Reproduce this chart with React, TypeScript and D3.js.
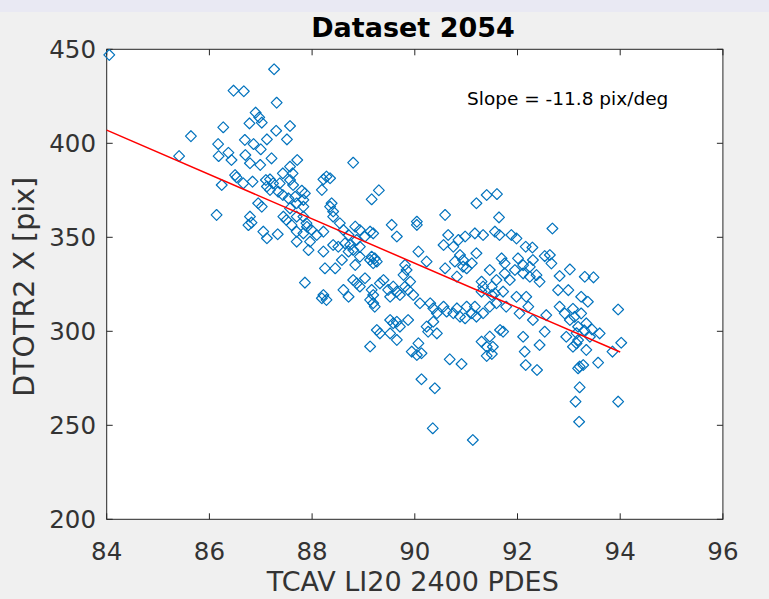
import React from 'react';
import * as d3 from 'd3';

const titleText = 'Dataset 2054';
const xLabelText = 'TCAV LI20 2400 PDES';
const yLabelText = 'DTOTR2 X [pix]';
const slopeText = 'Slope = -11.8 pix/deg';

const xTicks = [84, 86, 88, 90, 92, 94, 96];
const yTicks = [200, 250, 300, 350, 400, 450];

const fitX = [84, 94];
const fitY = [407, 289];

const tcav = [
  84.05, 85.41, 85.64, 86.27, 86.47, 86.67, 87.26, 87.31, 86.90, 86.97,
  87.02, 86.78, 87.57, 87.30, 87.51, 87.12, 86.69, 86.86, 86.17, 87.0,
  86.18, 86.37, 86.43, 86.70, 87.21, 86.79, 86.99, 87.71, 87.57, 87.43,
  87.62, 86.5, 86.53, 86.66, 86.24, 86.84, 87.1, 87.18, 87.24, 87.37,
  87.57, 87.80, 87.18, 87.34, 87.43, 86.95, 87.02, 87.54, 87.70, 87.57,
  87.83, 86.14, 86.79, 86.82, 86.76, 87.05, 87.12, 87.33, 87.44, 87.60,
  87.70, 87.83, 87.9, 87.70, 87.93, 87.86, 87.12, 87.50, 87.83, 88.80,
  88.22, 88.28, 88.35, 89.30,
  87.63, 87.67, 87.86, 87.83, 88.19, 88.35, 88.41, 88.38, 89.16, 87.70,
  87.89, 87.99, 87.96, 88.09, 88.22, 88.22, 88.25, 88.45, 88.41, 88.54,
  88.61, 88.71, 88.84, 88.93, 89.13, 89.03, 89.19, 88.41, 88.51, 88.64,
  88.74, 88.87, 88.71, 88.80, 88.93, 89.16, 89.13, 89.22, 89.26, 89.19,
  88.58, 88.84, 88.93, 89.55, 89.65, 90.04, 90.04, 90.07, 90.23, 89.81,
  89.84, 89.78, 90.59, 90.65, 90.56, 90.75, 90.85, 90.98, 91.17, 91.33,
  91.20, 91.40, 90.88, 90.94, 90.94, 91.01, 90.78, 90.59, 90.82, 91.11,
  91.20, 91.46, 91.30, 91.33, 91.50, 91.59, 91.50, 91.30, 88.22, 88.19,
  88.28, 88.61, 88.71, 88.80, 88.87, 88.93, 89.03, 89.16, 89.19, 89.13,
  89.19, 89.22, 89.32, 89.39, 89.48, 89.58, 89.52, 89.65, 89.71, 89.81,
  89.91, 89.87, 89.97, 90.10, 90.30, 90.36, 90.43, 90.36, 90.56, 90.62,
  90.75, 90.82, 90.88, 91.01, 91.11, 91.17, 91.20, 90.98, 91.33, 91.46,
  91.59, 89.52, 89.58, 89.65, 89.71, 89.87, 90.23, 90.43, 89.26, 89.32,
  89.13, 89.52, 89.65, 91.66,
  90.07, 89.94, 90.04, 90.13, 90.68, 90.91, 90.13, 90.39, 90.35, 91.13,
  90.26, 91.30, 91.46, 91.40, 91.40, 91.50, 91.72,
  91.60, 91.64, 92.68, 91.56, 91.65, 91.88, 91.98, 92.16, 92.29, 92.53,
  92.63, 92.66, 91.69, 91.75, 92.01, 92.11, 92.24, 92.30, 91.95, 92.11,
  92.24, 92.37, 92.43, 91.75, 91.85, 93.02, 92.82, 93.31, 93.48, 92.79,
  92.99, 93.24, 93.37, 91.56, 91.72, 91.98, 92.17, 92.21, 91.78, 92.04,
  92.30, 92.56, 92.82, 92.92, 93.02, 93.11, 93.18, 93.34, 93.60, 93.96,
  94.02, 92.53, 92.11, 92.43, 92.95, 93.18, 93.41,
  91.52, 92.14, 92.16, 92.38, 93.15, 93.08, 93.34, 93.21, 93.28, 93.18,
  93.57, 93.85, 93.21, 93.13, 93.96, 93.20,
  93.08, 93.24, 93.30, 93.45, 93.15
];

const dtotr2 = [
  447, 393.2, 403.8, 408.5, 428, 427.7, 439.4, 421.6, 416.3, 413.8,
  411, 410.6, 409.2, 406.7, 402.1, 402.1, 401.8, 399.6, 399.6, 396.8,
  393.2, 395, 391.1, 393.8, 392, 389.4, 388.5, 391.1, 387.6, 384,
  384, 383.1, 381.9, 378.7, 377.8, 379.6, 380.5, 380.8, 378.7, 378.7,
  380.5, 374.8, 375.2, 374.3, 372.5, 368.1, 366.3, 370.7, 368.1, 365.4,
  366.3, 361.9, 361, 357.8, 356.5, 353, 349.5, 351.6, 361, 356.5,
  353, 352.1, 355.6, 347.7, 343.2, 325.9, 377, 359.2, 361, 389.7,
  380.8, 382.3, 381.4, 375.0,
  377.8, 371.6, 373.4, 369.9, 375.2, 366.3, 363.7, 368.1, 370.2, 361,
  357.5, 353.9, 347.7, 351.2, 353, 342.4, 333.5, 333.5, 361, 357.5,
  353.9, 351.2, 355.7, 353.9, 353, 350.4, 352.1, 345.9, 345, 346.8,
  345.9, 348.6, 342.4, 343.3, 345, 339.7, 337.9, 338.8, 337.1, 336.2,
  337.9, 335.3, 339.7, 356.6, 350.4, 358.3, 356.6, 342.4, 337.1, 335.3,
  332.6, 330, 361.9, 351.2, 345.9, 345, 348.6, 350.4, 352.1, 351.2,
  368.1, 372.5, 340.6, 337.9, 334.4, 333.5, 337.1, 333.5, 329.1, 336.2,
  341.5, 332.6, 326.4, 323.8, 323.8, 327.3, 319.3, 321.1, 319.3, 317.6,
  316.7, 322, 318.4, 327.3, 325.5, 323.8, 328.2, 322, 319.3, 316.7,
  314.9, 313.1, 325.5, 327.3, 322, 323.8, 318.4, 321.1, 319.3, 323.8,
  326.4, 322, 319.3, 314.9, 314.9, 312.2, 309.6, 305.1, 313.1, 310.5,
  309.6, 312.2, 307.8, 313.1, 309.6, 313.1, 307.8, 306.9, 309.6, 313.1,
  314.9, 306, 304.3, 305.1, 302.5, 306, 302.5, 298.9, 300.7, 298.9,
  291.9, 298.9, 295.4, 300.7,
  293.6, 289.2, 287.4, 288.3, 285.1, 282.6, 274.5, 269.7, 248.4, 242.2,
  299.8, 294.5, 297.2, 291.8, 286.9, 287.9, 299.8,
  373.0, 360.6, 354.7, 353.0, 351.2, 351.2, 349.4, 345.0, 344.6, 340.0,
  340.6, 336.1, 338.8, 336.1, 338.8, 335.2, 334.3, 337.9, 332.6, 330.8,
  329.0, 329.9, 326.4, 330.8, 327.3, 332.9, 329.4, 329.0, 328.7, 321.9,
  321.9, 318.4, 315.7, 320.2, 321.1, 318.4, 318.4, 313.1, 313.1, 309.5,
  306.0, 308.6, 313.1, 309.5, 306.0, 307.7, 302.4, 304.2, 298.9, 311.6,
  293.9, 299.8, 297.1, 292.7, 297.1, 295.3, 297.1,
  291.8, 289.2, 282.1, 279.4, 293.6, 291.8, 290.1, 281.2, 282.1, 280.3,
  283.3, 289.2, 270.2, 262.6, 262.6, 251.9,
  312.0, 309.5, 300.5, 301.0, 299.0
];

const W = 769;
const H = 599;
const FONT = '"DejaVu Sans", "Lucida Grande", sans-serif';
const AXIS = '#262626';
const LABEL = '#333333';
const MARKER = '#0072BD';

export default function App() {
  const left = 106.7, right = 722.9, top = 49.3, bottom = 519.3;
  const x = d3.scaleLinear().domain([84, 96]).range([left, right]);
  const y = d3.scaleLinear().domain([200, 450]).range([bottom, top]);
  const pts: [number, number][] = tcav.map((v, i) => [v, dtotr2[i]]);
  const fit: [number, number][] = fitX.map((v, i) => [v, fitY[i]]);
  const line = d3.line<[number, number]>().x(d => x(d[0])).y(d => y(d[1]));
  const r = 5.4;
  const diamond = `M0,${-r}L${r},0L0,${r}L${-r},0Z`;
  const tickLen = 6;
  const cx = (left + right) / 2;
  const cy = (top + bottom) / 2;

  return (
    <svg width={W} height={H} style={{ position: 'absolute', left: 0, top: 0 }} fontFamily={FONT}>
      <rect x={0} y={0} width={W} height={H} fill="#f0f0f0" />
      <rect x={0} y={0} width={W} height={12} fill="#e9e9f3" />
      <rect x={left} y={top} width={right - left} height={bottom - top} fill="#ffffff" />

      {xTicks.map(t => (
        <g key={'xt' + t}>
          <line x1={x(t)} x2={x(t)} y1={bottom} y2={bottom - tickLen} stroke={AXIS} strokeWidth={1} />
          <line x1={x(t)} x2={x(t)} y1={top} y2={top + tickLen} stroke={AXIS} strokeWidth={1} />
          <text x={x(t)} y={560} textAnchor="middle" fontSize={24.5} fill={LABEL}>{t}</text>
        </g>
      ))}
      {yTicks.map(t => (
        <g key={'yt' + t}>
          <line x1={left} x2={left + tickLen} y1={y(t)} y2={y(t)} stroke={AXIS} strokeWidth={1} />
          <line x1={right} x2={right - tickLen} y1={y(t)} y2={y(t)} stroke={AXIS} strokeWidth={1} />
          <text x={96} y={y(t)} dy="0.36em" textAnchor="end" fontSize={24.5} fill={LABEL}>{t}</text>
        </g>
      ))}
      <rect x={left} y={top} width={right - left} height={bottom - top} fill="none" stroke={AXIS} strokeWidth={1} />

      <g>
        {pts.map((p, i) => (
          <path key={i} d={diamond} transform={`translate(${x(p[0])},${y(p[1])})`}
            fill="none" stroke={MARKER} strokeWidth={1.2} strokeLinejoin="round" />
        ))}
      </g>
      <path d={line(fit) || ''} fill="none" stroke="#ff0000" strokeWidth={1.5} />

      <text x={467} y={105} fontSize={18.5} fill="#000000">{slopeText}</text>

      <text x={413} y={37} textAnchor="middle" fontSize={27} fontWeight="bold" fill="#000000">{titleText}</text>
      <text x={cx - 2} y={591} textAnchor="middle" fontSize={27} fill={LABEL}>{xLabelText}</text>
      <text transform={`translate(34,${cy + 2.5}) rotate(-90)`} textAnchor="middle" fontSize={28.5} fill={LABEL}>{yLabelText}</text>
    </svg>
  );
}
